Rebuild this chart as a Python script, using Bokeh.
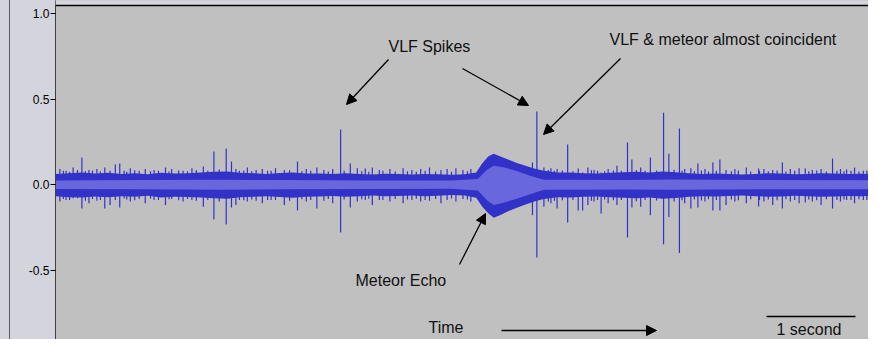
from bokeh.plotting import figure
from bokeh.models import (Range1d, FixedTicker, NumeralTickFormatter, Label,
                          Arrow, NormalHead, LinearAxis, BoxAnnotation, Span)
from bokeh.embed import file_html
from bokeh.resources import INLINE

# ---------------- data (time in seconds, amplitude -1..1) ----------------
band_t = [0.0, 0.15, 0.3, 0.45, 0.6, 0.75, 0.9, 1.05, 1.2, 1.35, 1.5, 1.65,
          1.8, 1.95, 2.1, 2.25, 2.4, 2.55, 2.7, 2.85, 3.0, 3.15, 3.3, 3.45,
          3.6, 3.75, 3.9, 4.05, 4.2, 4.35, 4.5, 4.65, 4.78, 4.85, 4.92, 4.98,
          5.05, 5.15, 5.25, 5.35, 5.45, 5.55, 5.7, 5.85, 6.0, 6.15, 6.3, 6.45,
          6.6, 6.75, 6.9, 7.05, 7.2, 7.35, 7.5, 7.65, 7.8, 7.95, 8.1, 8.25,
          8.4, 8.55, 8.7, 8.85, 9.0, 9.15, 9.35]
band_top = [0.062, 0.066, 0.07, 0.064, 0.068, 0.062, 0.066, 0.06, 0.068, 0.064,
            0.066, 0.07, 0.074, 0.076, 0.068, 0.066, 0.062, 0.067, 0.07, 0.065,
            0.064, 0.061, 0.066, 0.062, 0.059, 0.063, 0.061, 0.058, 0.062, 0.06,
            0.057, 0.06, 0.07, 0.125, 0.165, 0.18, 0.165, 0.145, 0.125, 0.108,
            0.092, 0.08, 0.07, 0.07, 0.066, 0.064, 0.068, 0.071, 0.074, 0.07,
            0.076, 0.072, 0.066, 0.062, 0.064, 0.061, 0.058, 0.062, 0.066, 0.064,
            0.06, 0.062, 0.066, 0.064, 0.061, 0.063, 0.06]
band_bot = [-0.068, -0.074, -0.076, -0.07, -0.075, -0.068, -0.072, -0.066, -0.076, -0.071,
            -0.073, -0.076, -0.081, -0.084, -0.074, -0.072, -0.068, -0.073, -0.078, -0.071,
            -0.07, -0.067, -0.072, -0.068, -0.065, -0.069, -0.067, -0.064, -0.068, -0.066,
            -0.062, -0.065, -0.078, -0.13, -0.17, -0.195, -0.18, -0.155, -0.135, -0.115,
            -0.098, -0.085, -0.074, -0.076, -0.072, -0.07, -0.075, -0.078, -0.081, -0.076,
            -0.083, -0.079, -0.072, -0.068, -0.07, -0.067, -0.064, -0.068, -0.072, -0.07,
            -0.066, -0.068, -0.072, -0.07, -0.067, -0.069, -0.066]

rms_t = [0.0, 1.0, 1.9, 2.6, 3.5, 4.5, 4.8, 4.9, 4.98, 5.1, 5.25, 5.4, 5.55,
         6.5, 7.0, 8.0, 9.35]
rms_top = [0.024, 0.026, 0.028, 0.026, 0.024, 0.023, 0.032, 0.085, 0.11, 0.1,
           0.078, 0.05, 0.028, 0.027, 0.029, 0.026, 0.025]
rms_bot = [-0.026, -0.028, -0.03, -0.028, -0.026, -0.025, -0.035, -0.09, -0.12,
           -0.105, -0.082, -0.055, -0.03, -0.029, -0.031, -0.028, -0.027]

spike_t = [0.30, 0.56, 0.68, 0.73, 1.80, 1.94, 2.00, 2.09, 2.41, 2.75, 2.97,
           3.24, 3.35, 3.52, 5.42, 5.47, 5.82, 5.94, 5.99, 6.20, 6.50, 6.55,
           6.76, 6.91, 6.97, 7.09, 7.30, 7.47, 7.55, 7.99, 8.26, 8.52, 8.83,
           8.99, 9.22,
           0.05, 0.12, 0.20, 0.38, 0.47, 0.62, 0.85, 0.95, 1.02, 1.12, 1.25,
           1.32, 1.45, 1.55, 1.68, 2.05, 2.18, 2.28, 2.35, 2.50, 2.60, 2.85,
           3.05, 3.15, 3.43, 3.60, 3.68, 3.80, 3.95, 4.05, 4.15, 4.25, 4.38,
           4.45, 4.55, 4.63, 4.72, 5.55, 5.63, 5.70, 6.05, 6.12, 6.28, 6.38,
           6.65, 7.15, 7.22, 7.38, 7.62, 7.72, 7.85, 8.05, 8.15, 8.35, 8.45,
           8.60, 8.70, 8.92, 9.08,
           0.09, 0.16, 0.25, 0.34, 0.42, 0.51, 0.78, 0.81, 0.90, 1.08, 1.17,
           1.29, 1.40, 1.50, 1.60, 1.73, 1.86, 2.14, 2.23, 2.45, 2.66, 2.80,
           2.90, 3.10, 3.28, 3.48, 3.56, 3.72, 3.86, 4.00, 4.10, 4.20, 4.32,
           4.50, 4.68, 5.60, 5.67, 5.76, 5.88, 6.09, 6.16, 6.24, 6.34, 6.43,
           6.60, 6.70, 6.83, 7.03, 7.12, 7.26, 7.34, 7.42, 7.51, 7.68, 7.76,
           7.90, 8.00, 8.10, 8.20, 8.30, 8.40, 8.56, 8.65, 8.76, 8.88, 8.96,
           9.04, 9.13, 9.18]
spike_top = [0.158, 0.10, 0.117, 0.123, 0.193, 0.21, 0.135, 0.08, 0.08, 0.135, 0.10,
             0.322, 0.123, 0.094, 0.129, 0.427, 0.234, 0.094, 0.07, 0.07, 0.246, 0.146,
             0.158, 0.42, 0.18, 0.327, 0.123, 0.129, 0.146, 0.094, 0.129, 0.094, 0.152,
             0.088, 0.082,
             0.09, 0.08, 0.10, 0.085, 0.09, 0.08, 0.095, 0.08, 0.09, 0.085, 0.10,
             0.09, 0.08, 0.095, 0.105, 0.09, 0.10, 0.085, 0.09, 0.095, 0.085, 0.09,
             0.085, 0.09, 0.095, 0.10, 0.085, 0.09, 0.095, 0.085, 0.09, 0.10, 0.085,
             0.09, 0.095, 0.085, 0.09, 0.10, 0.095, 0.09, 0.10, 0.085, 0.09, 0.11,
             0.10, 0.09, 0.095, 0.09, 0.085, 0.09, 0.10, 0.09, 0.085, 0.09, 0.095,
             0.085, 0.09, 0.09, 0.10,
             0.08, 0.075, 0.085, 0.078, 0.082, 0.076, 0.08, 0.074, 0.083, 0.078, 0.08,
             0.076, 0.082, 0.078, 0.085, 0.08, 0.088, 0.082, 0.078, 0.08, 0.084, 0.078,
             0.08, 0.076, 0.08, 0.078, 0.075, 0.08, 0.076, 0.078, 0.074, 0.08, 0.076,
             0.074, 0.078, 0.085, 0.08, 0.082, 0.078, 0.084, 0.08, 0.078, 0.082, 0.08,
             0.085, 0.08, 0.082, 0.086, 0.08, 0.078, 0.082, 0.076, 0.08, 0.078, 0.082,
             0.076, 0.08, 0.078, 0.082, 0.076, 0.08, 0.078, 0.082, 0.076, 0.08, 0.078,
             0.08, 0.076, 0.08]
spike_bot = [-0.14, -0.14, -0.09, -0.135, -0.205, -0.234, -0.135, -0.09, -0.09, -0.152, -0.14,
             -0.28, -0.135, -0.09, -0.18, -0.427, -0.222, -0.152, -0.152, -0.17, -0.31, -0.135,
             -0.18, -0.35, -0.19, -0.40, -0.135, -0.152, -0.152, -0.129, -0.14, -0.105, -0.14,
             -0.09, -0.09,
             -0.10, -0.09, -0.08, -0.11, -0.095, -0.12, -0.10, -0.085, -0.11, -0.09, -0.12,
             -0.085, -0.10, -0.09, -0.13, -0.12, -0.10, -0.095, -0.11, -0.09, -0.12, -0.10,
             -0.095, -0.11, -0.10, -0.12, -0.09, -0.10, -0.11, -0.09, -0.10, -0.095, -0.11,
             -0.09, -0.10, -0.085, -0.10, -0.13, -0.11, -0.14, -0.12, -0.10, -0.11, -0.12,
             -0.13, -0.11, -0.14, -0.10, -0.12, -0.10, -0.11, -0.10, -0.12, -0.10, -0.11,
             -0.10, -0.12, -0.10, -0.11,
             -0.085, -0.09, -0.08, -0.095, -0.085, -0.09, -0.082, -0.088, -0.092, -0.084, -0.09,
             -0.086, -0.092, -0.085, -0.095, -0.09, -0.1, -0.092, -0.088, -0.09, -0.095, -0.086,
             -0.09, -0.085, -0.088, -0.086, -0.084, -0.09, -0.085, -0.088, -0.083, -0.09, -0.085,
             -0.082, -0.088, -0.1, -0.095, -0.092, -0.09, -0.095, -0.09, -0.088, -0.092, -0.09,
             -0.098, -0.09, -0.094, -0.1, -0.092, -0.088, -0.094, -0.086, -0.09, -0.088, -0.092,
             -0.086, -0.09, -0.088, -0.092, -0.086, -0.09, -0.088, -0.092, -0.086, -0.09, -0.088,
             -0.09, -0.086, -0.09]

y_ticks = [-1.0, -0.5, 0.0, 0.5, 1.0]

# ---------------- figure ----------------
FONT = "Liberation Sans"
DARK = "#3232c8"
LIGHT = "#6868dc"
RULER = "#d4d4dc"
PX_PER_SEC = 88.0     # 1 second scale bar length in pixels
ZERO_Y = 184.0        # pixel row of amplitude 0
PX_PER_UNIT = 171.0   # pixels per amplitude unit
LEFT = 55             # width of the ruler panel
W, H = 868, 339


def T(px):
    return (px - LEFT) / PX_PER_SEC


def V(py):
    return (ZERO_Y - py) / PX_PER_UNIT


p = figure(width=W, height=H, x_range=Range1d(0, T(W)),
           y_range=Range1d(V(H), V(0)), output_backend="svg",
           toolbar_location=None, x_axis_location=None, y_axis_location=None,
           min_border_left=LEFT, min_border_right=0, min_border_top=0,
           min_border_bottom=0, background_fill_color="#c0c0c0",
           border_fill_color=RULER, border_fill_alpha=0.0,
           outline_line_color=None)
# ruler panel background with its thin dark left rule
p.styles = {"background": "linear-gradient(to right, %s 0px, %s 9px, #5a5a64 9px, "
                          "#5a5a64 10px, %s 10px, %s 100%%)" % (RULER, RULER, RULER, RULER)}
p.xgrid.visible = False
p.ygrid.visible = False

yaxis = LinearAxis(ticker=FixedTicker(ticks=y_ticks),
                   formatter=NumeralTickFormatter(format="0.0"))
yaxis.major_label_text_font = FONT
yaxis.major_label_text_font_size = "12px"
yaxis.major_label_text_color = "#000000"
yaxis.major_tick_out = 5
yaxis.major_tick_in = 0
yaxis.minor_tick_out = 0
yaxis.minor_tick_in = 0
yaxis.major_tick_line_color = "#000000"
yaxis.axis_line_color = "#404040"
yaxis.major_label_standoff = 1
p.add_layout(yaxis, "left")

# strip above the top border line of the track
p.add_layout(BoxAnnotation(bottom=V(5), fill_color=RULER, fill_alpha=1.0,
                           line_color=None))
p.add_layout(Span(location=V(5), dimension="width", line_color="#000000",
                  line_width=1.5))

p.varea(x=band_t, y1=band_bot, y2=band_top, fill_color=DARK)
p.segment(x0=spike_t, y0=spike_bot, x1=spike_t, y1=spike_top,
          line_color=DARK, line_width=1.2)
p.varea(x=rms_t, y1=rms_bot, y2=rms_top, fill_color=LIGHT)


def add_label(text, px, py):
    p.add_layout(Label(x=T(px), y=V(py), text=text, text_font=FONT,
                       text_font_size="16px", text_color="#111111",
                       text_baseline="middle", text_align="left"))


add_label("VLF Spikes", 388, 46)
add_label("VLF & meteor almost coincident", 609, 39)
add_label("Meteor Echo", 355, 280)
add_label("Time", 428, 327)
add_label("1 second", 776, 329)


def add_arrow(x0, y0, x1, y1, head=True):
    end = NormalHead(size=10, fill_color="black", line_color="black") if head else None
    p.add_layout(Arrow(x_start=T(x0), y_start=V(y0), x_end=T(x1), y_end=V(y1),
                       end=end, line_color="black", line_width=1.3))


add_arrow(388, 59, 346, 104)
add_arrow(462, 68, 528, 105)
add_arrow(620, 58, 543, 134)
add_arrow(459, 264, 485, 213)
add_arrow(501, 330, 656, 330)
add_arrow(766, 316, 855, 316, head=False)

open("out.html", "w").write(file_html(p, INLINE))
